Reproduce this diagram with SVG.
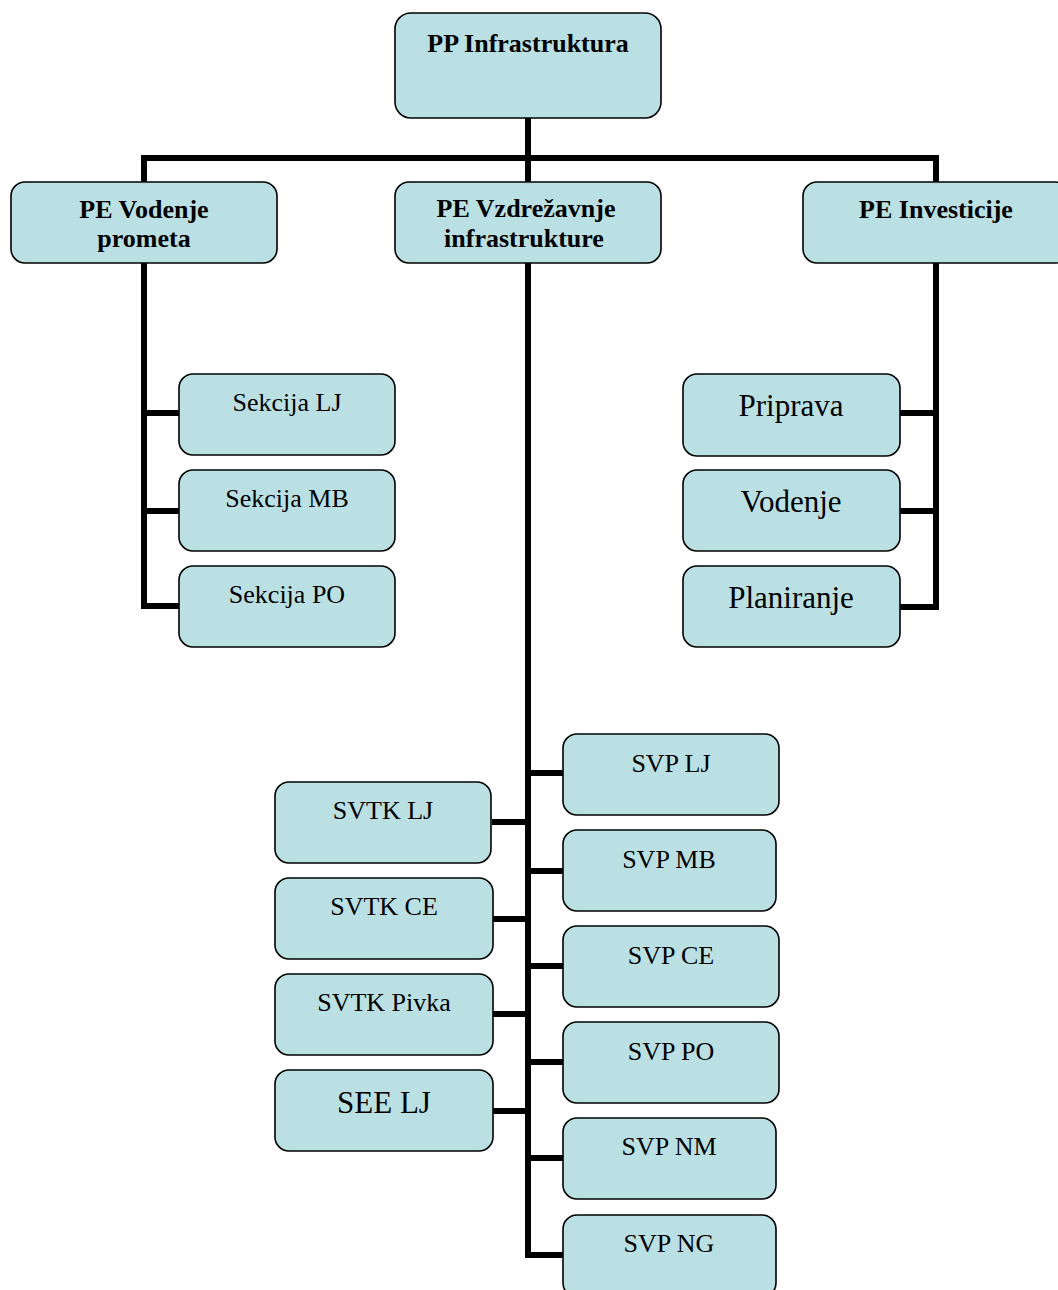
<svg xmlns="http://www.w3.org/2000/svg" width="1058" height="1290" viewBox="0 0 1058 1290">
  <style>
    .box { fill: #BBE0E3; stroke: #000; stroke-width: 1.6; }
    .lnk { fill: none; stroke: #000; stroke-width: 6; stroke-linejoin: miter; stroke-linecap: butt; }
    text { font-family: "Liberation Serif", "Times New Roman", serif; fill: #000; text-anchor: middle; }
    .b { font-size: 26px; font-weight: bold; }
    .r { font-size: 26px; }
    .l { font-size: 31px; }
  </style>

  <!-- connectors -->
  <g id="connectors">
    <path class="lnk" d="M528 118 V182"/>
    <path class="lnk" d="M144 182 V158 H936 V182"/>
    <!-- PE Vodenje prometa branch -->
    <path class="lnk" d="M144 263 V606 H179"/>
    <path class="lnk" d="M144 413 H179"/>
    <path class="lnk" d="M144 511 H179"/>
    <!-- PE Investicije branch -->
    <path class="lnk" d="M936 263 V607 H900"/>
    <path class="lnk" d="M936 413 H900"/>
    <path class="lnk" d="M936 511 H900"/>
    <!-- PE Vzdrezavnje infrastrukture branch -->
    <path class="lnk" d="M528 263 V1255 H563"/>
    <path class="lnk" d="M528 773 H563"/>
    <path class="lnk" d="M528 871 H563"/>
    <path class="lnk" d="M528 966 H563"/>
    <path class="lnk" d="M528 1062 H563"/>
    <path class="lnk" d="M528 1158 H563"/>
    <path class="lnk" d="M528 822 H492"/>
    <path class="lnk" d="M528 919 H493"/>
    <path class="lnk" d="M528 1014 H493"/>
    <path class="lnk" d="M528 1111 H493"/>
  </g>

  <!-- top level -->
  <g id="pp-infrastruktura">
    <rect class="box" x="395" y="13" width="266" height="105" rx="16"/>
    <text class="b" x="528" y="52">PP Infrastruktura</text>
  </g>

  <!-- units -->
  <g id="pe-vodenje-prometa">
    <rect class="box" x="11" y="182" width="266" height="81" rx="14"/>
    <text class="b" x="144" y="218">PE Vodenje</text>
    <text class="b" x="144" y="247">prometa</text>
  </g>
  <g id="pe-vzdrezavnje">
    <rect class="box" x="395" y="182" width="266" height="81" rx="14"/>
    <text class="b" x="526" y="217">PE Vzdrežavnje</text>
    <text class="b" x="524" y="247">infrastrukture</text>
  </g>
  <g id="pe-investicije">
    <rect class="box" x="803" y="182" width="266" height="81" rx="14"/>
    <text class="b" x="936" y="218">PE Investicije</text>
  </g>

  <!-- sections under PE Vodenje prometa -->
  <g id="sekcija-lj">
    <rect class="box" x="179" y="374" width="216" height="81" rx="14"/>
    <text class="r" x="287" y="411">Sekcija LJ</text>
  </g>
  <g id="sekcija-mb">
    <rect class="box" x="179" y="470" width="216" height="81" rx="14"/>
    <text class="r" x="287" y="507">Sekcija MB</text>
  </g>
  <g id="sekcija-po">
    <rect class="box" x="179" y="566" width="216" height="81" rx="14"/>
    <text class="r" x="287" y="603">Sekcija PO</text>
  </g>

  <!-- departments under PE Investicije -->
  <g id="priprava">
    <rect class="box" x="683" y="374" width="217" height="82" rx="14"/>
    <text class="l" x="791" y="416">Priprava</text>
  </g>
  <g id="vodenje">
    <rect class="box" x="683" y="470" width="217" height="81" rx="14"/>
    <text class="l" x="791" y="512">Vodenje</text>
  </g>
  <g id="planiranje">
    <rect class="box" x="683" y="566" width="217" height="81" rx="14"/>
    <text class="l" x="791" y="608">Planiranje</text>
  </g>

  <!-- units under PE Vzdrezavnje infrastrukture: left column -->
  <g id="svtk-lj">
    <rect class="box" x="275" y="782" width="216" height="81" rx="14"/>
    <text class="r" x="383" y="819">SVTK LJ</text>
  </g>
  <g id="svtk-ce">
    <rect class="box" x="275" y="878" width="218" height="81" rx="14"/>
    <text class="r" x="384" y="915">SVTK CE</text>
  </g>
  <g id="svtk-pivka">
    <rect class="box" x="275" y="974" width="218" height="81" rx="14"/>
    <text class="r" x="384" y="1011">SVTK Pivka</text>
  </g>
  <g id="see-lj">
    <rect class="box" x="275" y="1070" width="218" height="81" rx="14"/>
    <text class="l" x="384" y="1113">SEE LJ</text>
  </g>

  <!-- right column -->
  <g id="svp-lj">
    <rect class="box" x="563" y="734" width="216" height="81" rx="14"/>
    <text class="r" x="671" y="772">SVP LJ</text>
  </g>
  <g id="svp-mb">
    <rect class="box" x="563" y="830" width="213" height="81" rx="14"/>
    <text class="r" x="669" y="868">SVP MB</text>
  </g>
  <g id="svp-ce">
    <rect class="box" x="563" y="926" width="216" height="81" rx="14"/>
    <text class="r" x="671" y="964">SVP CE</text>
  </g>
  <g id="svp-po">
    <rect class="box" x="563" y="1022" width="216" height="81" rx="14"/>
    <text class="r" x="671" y="1060">SVP PO</text>
  </g>
  <g id="svp-nm">
    <rect class="box" x="563" y="1118" width="213" height="81" rx="14"/>
    <text class="r" x="669" y="1155">SVP NM</text>
  </g>
  <g id="svp-ng">
    <rect class="box" x="563" y="1215" width="213" height="82" rx="14"/>
    <text class="r" x="669" y="1252">SVP NG</text>
  </g>
</svg>
